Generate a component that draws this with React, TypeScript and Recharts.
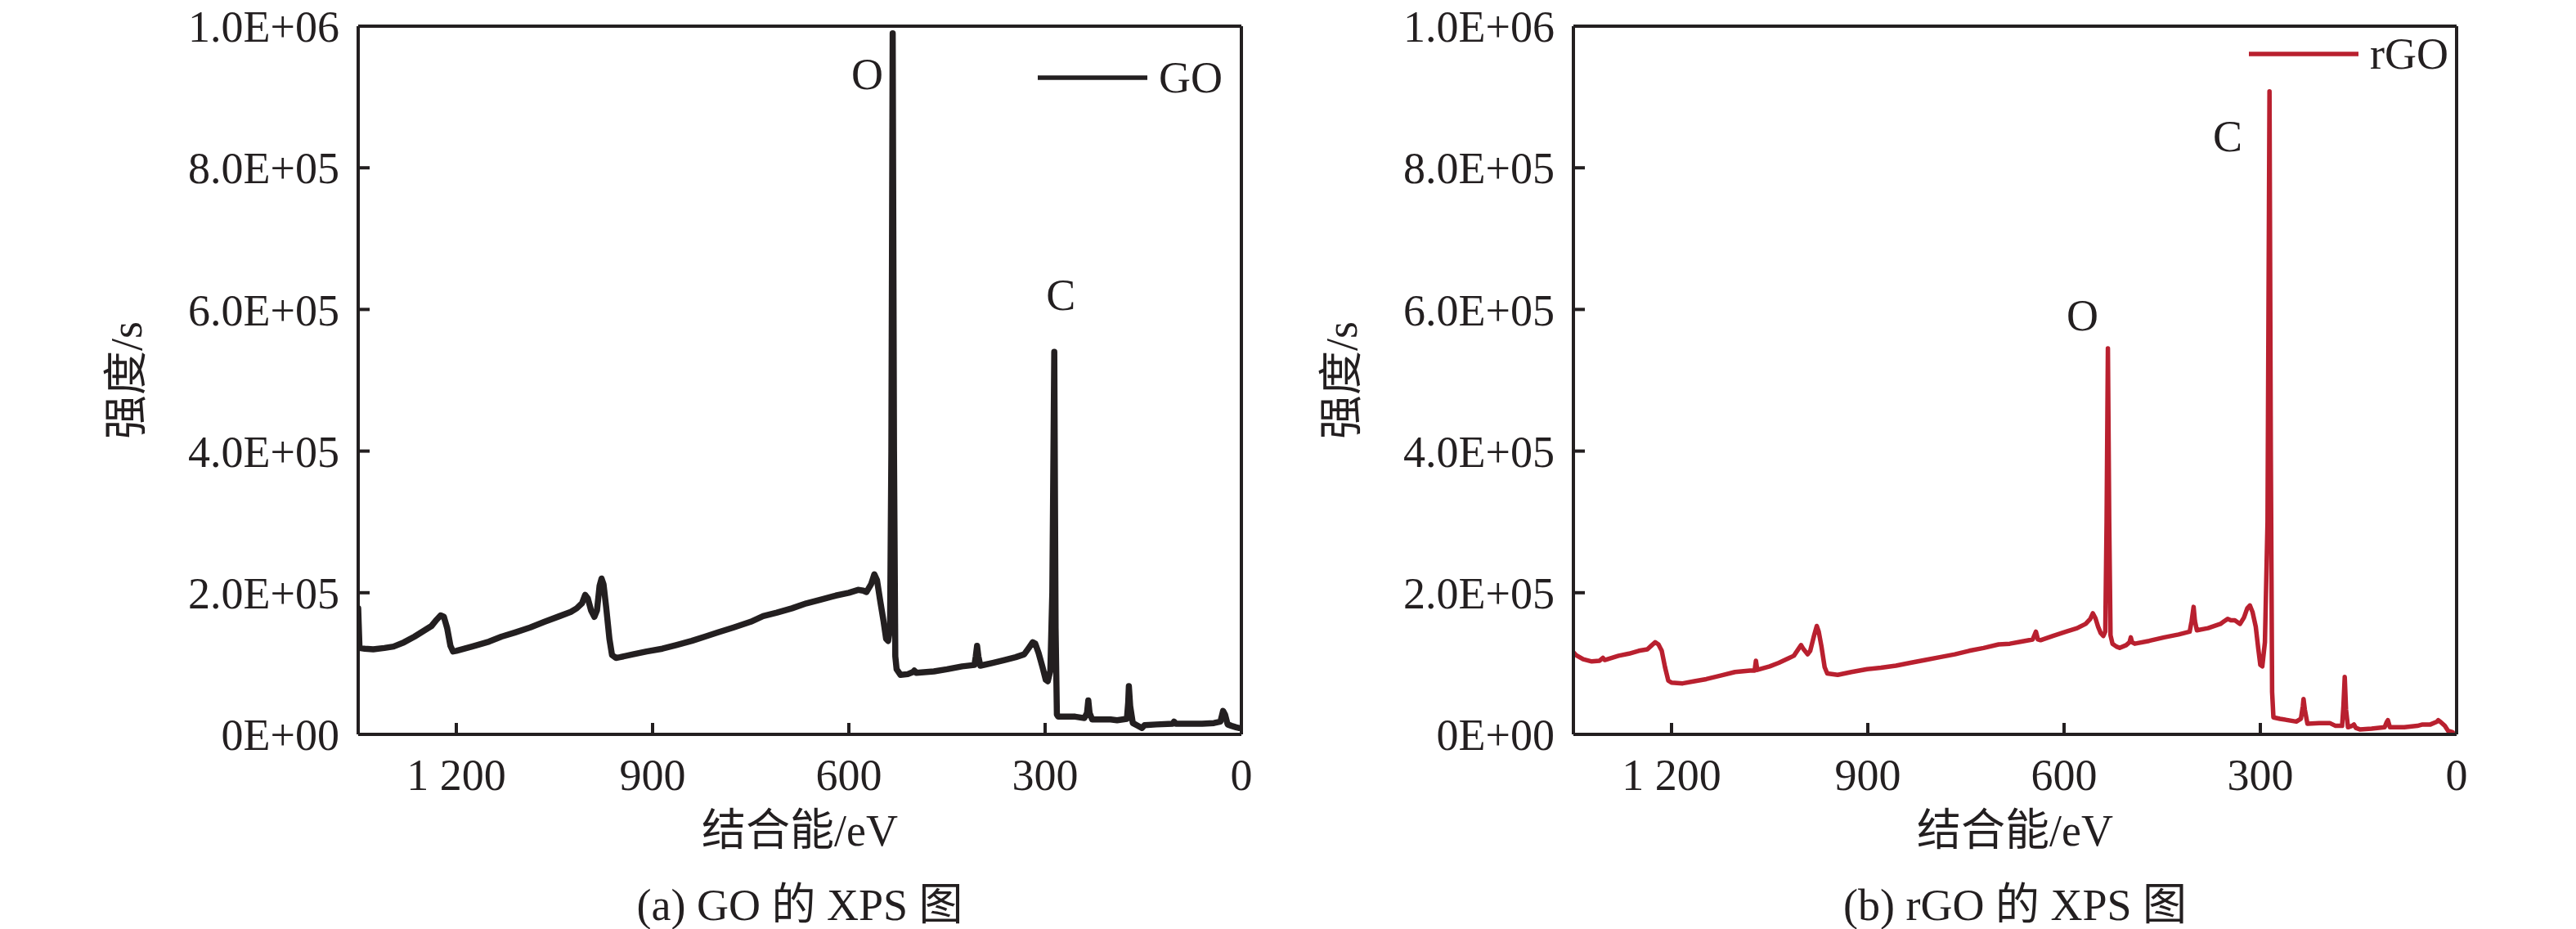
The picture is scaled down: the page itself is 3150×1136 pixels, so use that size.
import React from 'react';
import { LineChart, Line, XAxis, YAxis, ReferenceDot, Legend } from 'recharts';

// ---------- data (intensity in 10^3 counts/s) ----------
const goEnergy = [
  1350, 1348, 1340, 1327, 1310, 1296, 1280, 1264, 1250, 1238, 1230, 1224, 1219, 1214, 1209, 1205, 1200,
  1176, 1150, 1131, 1110, 1087, 1065, 1042, 1025, 1016, 1008, 1003, 999, 994, 989, 985, 981, 978, 975,
  971, 966, 962, 956, 950, 930, 909, 885, 864, 840, 820, 800, 776, 750, 731, 710, 687, 665, 640, 620,
  600, 586, 578, 573, 566, 561, 557, 552, 547, 543, 540, 537, 535, 533, 531, 529, 527, 521, 510, 502,
  500, 497, 470, 450, 427, 408, 406, 404, 402, 399, 380, 362, 345, 332, 325, 319, 315, 310, 304, 299,
  296, 292, 289, 286, 284, 282, 280, 254, 240, 236, 234, 232, 228, 200, 190, 175, 173, 172, 170, 166,
  160, 152, 148, 130, 105, 103, 100, 60, 42, 32, 28, 25, 21, 15, 8, 4,
];
const goIntensity = [
  178, 122, 121, 120, 122, 124, 130, 138, 146, 153, 162, 168, 166, 150, 125, 117, 118,
  124, 131, 138, 144, 151, 159, 167, 173, 178, 185, 197, 192, 175, 166, 175, 210, 220, 212,
  180, 135, 112, 108, 109, 113, 117, 121, 126, 132, 138, 144, 151, 159, 167, 172, 178, 185, 191, 196,
  200, 204, 203, 201, 212, 226, 218, 188, 160, 135, 132, 150, 400, 990, 400, 110, 92, 84, 85, 88,
  90, 87, 89, 92, 96, 98, 110, 125, 110, 97, 101, 105, 109, 113, 122, 130, 128, 115, 95, 77,
  75, 90, 200, 540, 150, 28, 25, 25, 23, 30, 48, 30, 21, 21, 20, 22, 45, 68, 40, 16,
  13, 9, 13, 14, 15, 18, 15, 15, 16, 18, 33, 28, 14, 12, 10, 9,
];

const rgoEnergy = [
  1350, 1346, 1335, 1322, 1310, 1305, 1302, 1281, 1265, 1250, 1237, 1230, 1225, 1220, 1215, 1210, 1205,
  1200, 1183, 1165, 1147, 1125, 1103, 1080, 1073, 1071, 1069, 1050, 1036, 1020, 1013, 1005, 1002, 998,
  992, 988, 982, 978, 975, 971, 966, 962, 946, 925, 901, 880, 857, 835, 812, 790, 767, 745, 723, 700,
  683, 665, 648, 643, 640, 636, 617, 597, 580, 567, 560, 556, 552, 548, 544, 540, 537, 535, 533, 531,
  529, 526, 520, 515, 505, 500, 498, 496, 492, 470, 447, 425, 408, 405, 402, 400, 397, 380, 361, 355,
  350, 345, 339, 331, 325, 320, 316, 312, 307, 303, 300, 297, 293, 289, 286, 284, 282, 280, 270, 245,
  238, 235, 234, 232, 228, 210, 194, 185, 175, 173, 171, 169, 166, 160, 157, 154, 148, 130, 110, 107,
  105, 102, 80, 60, 52, 40, 30, 28, 25, 18, 13, 6,
];
const rgoIntensity = [
  116, 112, 106, 103, 104, 108, 105, 111, 114, 118, 120, 126, 130, 127, 118, 95, 76,
  73, 72, 75, 78, 83, 88, 90, 90, 104, 91, 96, 101, 108, 111, 122, 126, 120,
  113, 118, 140, 153, 145, 125, 95, 86, 84, 88, 92, 94, 97, 101, 105, 109, 113, 118, 122, 127,
  128, 131, 134, 145, 134, 133, 139, 145, 150, 156, 163, 171, 164, 152, 143, 139, 145, 300, 545, 300,
  140, 128, 124, 122, 126, 130, 137, 130, 128, 132, 137, 141, 145, 160, 180, 160, 147, 150, 156, 160,
  163, 161, 161, 156, 165, 178, 182, 173, 152, 120, 98, 96, 130, 300, 908, 400, 60, 24, 22, 18,
  22, 40, 50, 35, 15, 16, 16, 12, 12, 40, 81, 35, 10, 12, 14, 9, 7, 8, 10, 17,
  20, 10, 10, 12, 14, 14, 18, 20, 18, 12, 5, 3,
];

const xTicks = [1200, 900, 600, 300, 0];
const xTickLabels = ['1 200', '900', '600', '300', '0'];
const yTicks = [0, 200, 400, 600, 800, 1000];
const yTickLabels = ['0E+00', '2.0E+05', '4.0E+05', '6.0E+05', '8.0E+05', '1.0E+06'];
const xTitle = '结合能/eV';
const yTitle = '强度/s';

// ---------- style ----------
const FONT = "'Liberation Serif', 'Times New Roman', 'Noto Sans CJK SC', serif";
const INK = '#231f20';
const FS = 54;

type PeakLabel = { text: string; energy: number; value: number };

type PanelProps = {
  left: number;
  energy: number[];
  intensity: number[];
  name: string;
  color: string;
  lineWidth: number;
  legendLeft: number;
  legendTop: number;
  peaks: PeakLabel[];
  caption: string;
};

const XTitle = (props: any) => {
  const vb = props.viewBox || { x: 438, y: 898, width: 1080, height: 150 };
  return (
    <text
      x={vb.x + vb.width / 2}
      y={vb.y + 118}
      textAnchor="middle"
      dominantBaseline="central"
      fontFamily={FONT}
      fontSize={FS}
      fill={INK}
    >
      {xTitle}
    </text>
  );
};

const YTitle = (props: any) => {
  const vb = props.viewBox || { x: 138, y: 32, width: 300, height: 866 };
  const cx = vb.x + 17;
  const cy = vb.y + vb.height / 2;
  return (
    <text
      x={cx}
      y={cy}
      transform={`rotate(-90 ${cx} ${cy})`}
      textAnchor="middle"
      dominantBaseline="central"
      fontFamily={FONT}
      fontSize={FS}
      fill={INK}
    >
      {yTitle}
    </text>
  );
};

const LegendContent = (props: any) => {
  const items = props.payload || [];
  return (
    <div>
      {items.map((it: any) => (
        <div
          key={it.value}
          style={{ display: 'flex', alignItems: 'center', fontFamily: FONT, fontSize: FS, lineHeight: `${FS}px`, color: INK }}
        >
          <svg width={134} height={10} style={{ display: 'block' }}>
            <line x1={0} y1={5} x2={134} y2={5} stroke={it.color} strokeWidth={5.5} />
          </svg>
          <span style={{ marginLeft: 14 }}>{it.value}</span>
        </div>
      ))}
    </div>
  );
};

function Panel(p: PanelProps) {
  const rows = p.energy.map((e, i) => ({ energy: e, intensity: p.intensity[i] }));
  return (
    <div style={{ position: 'absolute', left: p.left, top: 0, width: 1575, height: 1136 }}>
      <LineChart width={1575} height={1136} data={rows} margin={{ top: 31, right: 56, bottom: 88, left: 138 }}>
        <XAxis
          dataKey="energy"
          type="number"
          domain={[0, 1350]}
          reversed
          allowDataOverflow
          ticks={xTicks}
          interval={0}
          tickFormatter={(v: number) => xTickLabels[xTicks.indexOf(v)]}
          height={150}
          axisLine={{ stroke: INK, strokeWidth: 4 }}
          tickLine={{ stroke: INK, strokeWidth: 4 }}
          tickSize={-14}
          tickMargin={44}
          tick={{ fontFamily: FONT, fontSize: FS, fill: INK }}
          label={XTitle}
        />
        <XAxis
          xAxisId="top"
          orientation="top"
          type="number"
          domain={[0, 1350]}
          reversed
          height={1}
          tick={false}
          tickLine={false}
          axisLine={{ stroke: INK, strokeWidth: 4 }}
        />
        <YAxis
          type="number"
          domain={[0, 1000]}
          allowDataOverflow
          ticks={yTicks}
          interval={0}
          tickFormatter={(v: number) => yTickLabels[yTicks.indexOf(v)]}
          width={300}
          axisLine={{ stroke: INK, strokeWidth: 4 }}
          tickLine={{ stroke: INK, strokeWidth: 4 }}
          tickSize={-14}
          tickMargin={37}
          tick={{ fontFamily: FONT, fontSize: FS, fill: INK }}
          label={YTitle}
        />
        <YAxis
          yAxisId="right"
          orientation="right"
          type="number"
          domain={[0, 1000]}
          width={1}
          tick={false}
          tickLine={false}
          axisLine={{ stroke: INK, strokeWidth: 4 }}
        />
        <Line
          type="linear"
          dataKey="intensity"
          name={p.name}
          stroke={p.color}
          strokeWidth={p.lineWidth}
          strokeLinejoin="round"
          strokeLinecap="round"
          dot={false}
          activeDot={false}
          isAnimationActive={false}
        />
        {p.peaks.map((pk) => (
          <ReferenceDot
            key={pk.text}
            x={pk.energy}
            y={pk.value}
            r={0}
            fill="none"
            stroke="none"
            label={{ value: pk.text, position: 'center', fontFamily: FONT, fontSize: FS, fill: INK }}
          />
        ))}
        <Legend
          layout="horizontal"
          verticalAlign="middle"
          align="center"
          content={LegendContent}
          wrapperStyle={{ left: p.legendLeft, top: p.legendTop, width: 320, height: 54, textAlign: 'left' }}
        />
      </LineChart>
      <div
        style={{
          position: 'absolute',
          left: 438,
          width: 1080,
          top: 1080,
          textAlign: 'center',
          fontFamily: FONT,
          fontSize: FS,
          lineHeight: `${FS}px`,
          color: INK,
          whiteSpace: 'nowrap',
        }}
      >
        {p.caption}
      </div>
    </div>
  );
}

export default function App() {
  return (
    <div style={{ position: 'absolute', left: 0, top: 0, width: 3150, height: 1136, background: '#fff', overflow: 'hidden' }}>
      <Panel
        left={0}
        energy={goEnergy}
        intensity={goIntensity}
        name="GO"
        color="#231f20"
        lineWidth={7.5}
        legendLeft={1269}
        legendTop={68}
        peaks={[
          { text: 'O', energy: 572, value: 933 },
          { text: 'C', energy: 276, value: 621 },
        ]}
        caption="(a) GO 的 XPS 图"
      />
      <Panel
        left={1486}
        energy={rgoEnergy}
        intensity={rgoIntensity}
        name="rGO"
        color="#b9202f"
        lineWidth={5.5}
        legendLeft={1264}
        legendTop={39}
        peaks={[
          { text: 'O', energy: 572, value: 592 },
          { text: 'C', energy: 350, value: 846 },
        ]}
        caption="(b) rGO 的 XPS 图"
      />
    </div>
  );
}
